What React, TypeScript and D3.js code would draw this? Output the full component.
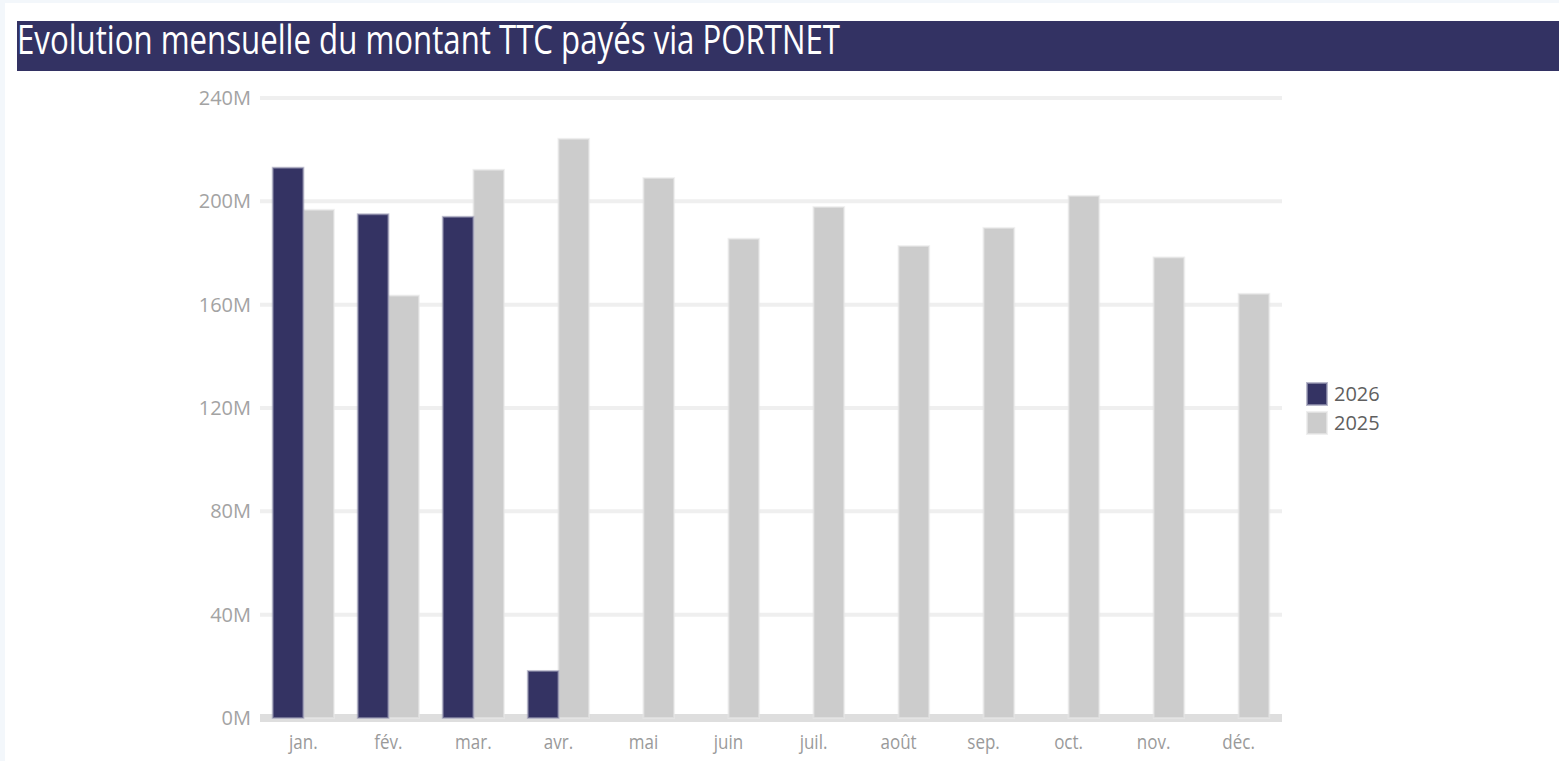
import { useEffect, useRef } from "react";
import * as d3 from "d3";

const months = ["jan.", "fév.", "mar.", "avr.", "mai", "juin", "juil.", "août", "sep.", "oct.", "nov.", "déc."];
const series = ["2026", "2025"];
// montants TTC en millions
const values2026 = [213, 195, 194, 18.2];
const values2025 = [196.7, 163.5, 212.2, 224.2, 209, 185.5, 197.8, 182.7, 189.7, 202.1, 178.3, 164.2];
const yTicks = [0, 40, 80, 120, 160, 200, 240];

const W = 1559;
const H = 761;
const FONT = "'Open Sans', 'Noto Sans', sans-serif";
const colors: Record<string, string> = { "2026": "#343363", "2025": "#cccccc" };
const halo: Record<string, string> = { "2026": "#9d9db6", "2025": "#e8e8e8" };

const App = () => {
  const svgRef = useRef<SVGSVGElement | null>(null);

  useEffect(() => {
    document.body.style.margin = "0";
    const svg = d3.select(svgRef.current);
    svg.selectAll("*").remove();

    // fond de page + panneau blanc
    svg.append("rect").attr("width", W).attr("height", H).attr("fill", "#f3f7fb");
    svg.append("rect").attr("x", 5).attr("y", 3).attr("width", W - 5).attr("height", H - 3).attr("fill", "#ffffff");

    // bandeau titre
    svg.append("rect").attr("x", 17).attr("y", 21).attr("width", W - 17).attr("height", 50).attr("fill", "#333263");
    svg
      .append("text")
      .attr("x", 17)
      .attr("y", 54)
      .attr("fill", "#ffffff")
      .style("font-family", FONT)
      .style("font-size", "41px")
      .attr("textLength", 823)
      .attr("lengthAdjust", "spacingAndGlyphs")
      .text("Evolution mensuelle du montant TTC payés via PORTNET");

    const left = 260;
    const right = 1282;

    const x = d3.scaleBand().domain(months).range([left, right]).paddingInner(0.28).paddingOuter(0.15);
    const xs = d3.scaleBand().domain(series).range([0, x.bandwidth()]);
    const y = d3.scaleLinear().domain([0, 240]).range([718, 98]);

    // grille
    svg
      .selectAll(".grid")
      .data(yTicks.filter((t) => t > 0))
      .enter()
      .append("line")
      .attr("x1", left)
      .attr("x2", right)
      .attr("y1", (d) => y(d))
      .attr("y2", (d) => y(d))
      .attr("stroke", "#efefef")
      .attr("stroke-width", 4);

    // ligne de base
    svg.append("rect").attr("x", left).attr("y", y(0) - 4).attr("width", right - left).attr("height", 8).attr("fill", "#dedede");

    // étiquettes axe Y
    svg
      .selectAll(".ylab")
      .data(yTicks)
      .enter()
      .append("text")
      .attr("x", 251)
      .attr("y", (d) => y(d) + 7)
      .attr("text-anchor", "end")
      .attr("fill", "#a3a3a3")
      .style("font-family", FONT)
      .style("font-size", "20px")
      .text((d) => `${d}M`);

    // barres
    const bars = [
      ...values2025.map((v, i) => ({ s: "2025", m: months[i], v })),
      ...values2026.map((v, i) => ({ s: "2026", m: months[i], v })),
    ];
    svg
      .selectAll(".bar")
      .data(bars)
      .enter()
      .append("rect")
      .attr("x", (d) => (x(d.m) as number) + (xs(d.s) as number))
      .attr("y", (d) => y(d.v))
      .attr("width", xs.bandwidth())
      .attr("height", (d) => y(0) - y(d.v))
      .attr("fill", (d) => colors[d.s])
      .attr("stroke", (d) => halo[d.s])
      .attr("stroke-opacity", 0.6)
      .attr("stroke-width", 2);

    // étiquettes axe X
    svg
      .selectAll(".xlab")
      .data(months)
      .enter()
      .append("text")
      .attr("class", "cond")
      .attr("x", (d) => (x(d) as number) + x.bandwidth() / 2)
      .attr("y", 749)
      .attr("text-anchor", "middle")
      .attr("fill", "#9a9a9a")
      .style("font-family", FONT)
      .style("font-size", "20px")
      .text((d) => d);

    // légende
    const legend = svg
      .selectAll(".leg")
      .data(series)
      .enter()
      .append("g")
      .attr("transform", (d, i) => `translate(1307, ${383 + i * 29})`);
    legend
      .append("rect")
      .attr("width", 20)
      .attr("height", 22)
      .attr("fill", (d) => colors[d])
      .attr("stroke", (d) => halo[d])
      .attr("stroke-opacity", 0.7)
      .attr("stroke-width", 2);
    legend
      .append("text")
      .attr("x", 27)
      .attr("y", 18)
      .attr("fill", "#5f5f5f")
      .style("font-family", FONT)
      .style("font-size", "20px")
      .text((d) => d);

    // rendu étroit comme l'original
    svg.selectAll<SVGTextElement, unknown>("text.cond").each(function () {
      const len = this.getComputedTextLength();
      d3.select(this).attr("textLength", len * 0.85).attr("lengthAdjust", "spacingAndGlyphs");
    });
  }, []);

  return <svg ref={svgRef} width={W} height={H} style={{ display: "block" }}></svg>;
};

export default App;
